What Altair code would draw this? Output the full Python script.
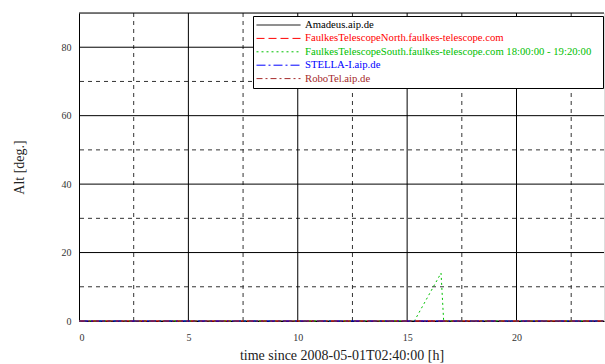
import altair as alt
import pandas as pd

# ---- data ----
series = [
    "Amadeus.aip.de",
    "FaulkesTelescopeNorth.faulkes-telescope.com",
    "FaulkesTelescopeSouth.faulkes-telescope.com 18:00:00 - 19:20:00",
    "STELLA-I.aip.de",
    "RoboTel.aip.de",
]
colors = ["#000000", "#ff0000", "#00c000", "#0000ff", "#a52a2a"]
dashes = [[1, 0], [8, 4], [2, 3], [9, 3, 2, 3], [6, 3, 2, 3]]

hours_amadeus = [0, 24]
alt_amadeus = [0, 0]
hours_north = [0, 24]
alt_north = [0, 0]
hours_south = [0, 15.33, 16.55, 16.67, 24]
alt_south = [0, 0, 14, 0, 0]
hours_stella = [0, 24]
alt_stella = [0, 0]
hours_robotel = [0, 24]
alt_robotel = [0, 0]

x_ticks = [0, 5, 10, 15, 20]
y_ticks = [0, 20, 40, 60, 80]
x_major_grid = [5, 10, 15, 20]
x_minor_grid = [2.5, 7.5, 12.5, 17.5, 22.5]
y_major_grid = [20, 40, 60, 80]
y_minor_grid = [10, 30, 50, 70]
x_domain = [0, 24]
y_domain = [0, 90]

rows = []
for name, hs, al in zip(
    series,
    [hours_amadeus, hours_north, hours_south, hours_stella, hours_robotel],
    [alt_amadeus, alt_north, alt_south, alt_stella, alt_robotel],
):
    for h, a in zip(hs, al):
        rows.append({"series": name, "h": h, "alt": a, "order": series.index(name)})
df = pd.DataFrame(rows)

xs = alt.Scale(domain=x_domain, nice=False, zero=False)
ys = alt.Scale(domain=y_domain, nice=False, zero=False)

FONT = "'Liberation Serif', 'Times New Roman', 'DejaVu Serif', serif"

vmajor = alt.Chart(pd.DataFrame({"x": x_major_grid})).mark_rule(
    color="black", strokeWidth=1
).encode(x=alt.X("x:Q", scale=xs))
vminor = alt.Chart(pd.DataFrame({"x": x_minor_grid})).mark_rule(
    color="#333333", strokeWidth=1, strokeDash=[4, 4]
).encode(x=alt.X("x:Q", scale=xs))
hmajor = alt.Chart(pd.DataFrame({"y": y_major_grid})).mark_rule(
    color="black", strokeWidth=1
).encode(y=alt.Y("y:Q", scale=ys))
hminor = alt.Chart(pd.DataFrame({"y": y_minor_grid})).mark_rule(
    color="#333333", strokeWidth=1, strokeDash=[4, 4]
).encode(y=alt.Y("y:Q", scale=ys))
top = alt.Chart(pd.DataFrame({"y": [y_domain[1]]})).mark_rule(
    color="black", strokeWidth=1
).encode(y=alt.Y("y:Q", scale=ys))

legend = alt.Legend(
    title=" ",
    titleOrient="right",
    titlePadding=9,
    titleFontSize=8,
    orient="none",
    legendX=174,
    legendY=3,
    symbolType="M-1,0H1",
    symbolSize=1936,
    symbolStrokeWidth=1,
    symbolFillColor="transparent",
    symbolDash={"expr": "scale('strokeDash', datum.value)"},
    symbolStrokeColor={"expr": "scale('color', datum.value)"},
    clipHeight=12,
    labelFont=FONT,
    labelFontSize=10.7,
    labelColor={"expr": "scale('color', datum.value)"},
    labelLimit=500,
    labelOffset=4,
    strokeColor="black",
    fillColor="white",
    padding=3,
    rowPadding=1.4,
)

lines = alt.Chart(df).mark_line(strokeWidth=1).encode(
    x=alt.X(
        "h:Q",
        scale=xs,
        axis=alt.Axis(
            values=x_ticks,
            title="time since 2008-05-01T02:40:00 [h]",
            grid=False,
            ticks=False,
            domainColor="black",
            labelFont=FONT,
            labelFontSize=10,
            labelColor="#333333",
            labelPadding=11,
            titleFont=FONT,
            titleFontSize=14,
            titleFontWeight="normal",
            titleColor="#222222",
            titlePadding=6,
        ),
    ),
    y=alt.Y(
        "alt:Q",
        scale=ys,
        axis=alt.Axis(
            values=y_ticks,
            title="Alt [deg.]",
            grid=False,
            ticks=False,
            domainColor="black",
            labelFont=FONT,
            labelFontSize=10,
            labelColor="#333333",
            labelPadding=8,
            titleFont=FONT,
            titleFontSize=14,
            titleFontWeight="normal",
            titleColor="#222222",
            titlePadding=35,
        ),
    ),
    color=alt.Color("series:N", scale=alt.Scale(domain=series, range=colors), legend=legend),
    strokeDash=alt.StrokeDash("series:N", scale=alt.Scale(domain=series, range=dashes), legend=None),
    order=alt.Order("order:Q"),
)

chart = (
    alt.layer(hminor, vminor, hmajor, vmajor, top, lines)
    .properties(
        width=525,
        height=308,
        autosize=alt.AutoSizeParams(type="none"),
        padding={"left": 79, "top": 13, "right": 1, "bottom": 43},
    )
    .configure_view(stroke=None)
    .configure(background="white")
)

chart.save("out.html", embed_options={"renderer": "svg", "actions": False})
